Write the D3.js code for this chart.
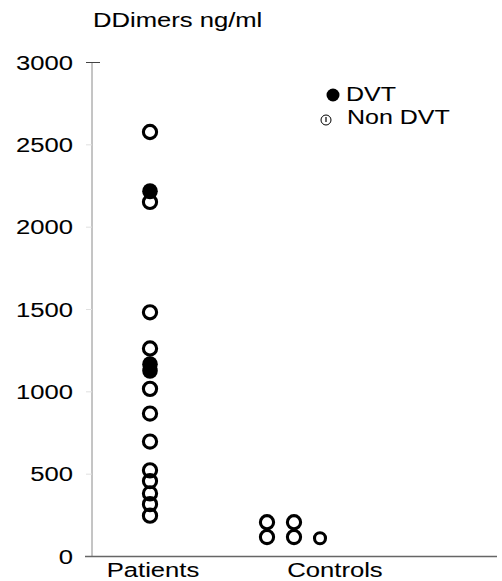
<!DOCTYPE html>
<html lang="en">
  <head>
    <meta charset="UTF-8" />
    <title>DDimers</title>
    <script src="https://cdn.jsdelivr.net/npm/d3@7"></script>
    <style>
      body { margin: 0; background: #fff; }
      text { font-family: "Liberation Sans", Arial, sans-serif; fill: #000; stroke: #000; stroke-width: 0.08; }
    </style>
  </head>
  <body>
    <div id="chart"></div>
    <script>
      // data
      const groups = ["Patients", "Controls"];
      const columns = ["P", "C1", "C2", "C3"];
      const yTicks = [0, 500, 1000, 1500, 2000, 2500, 3000];

      // patients, open circles = Non DVT, filled = DVT
      const patientNonDvt = [2575, 2150, 1480, 1260, 1015, 865, 695, 520, 455, 380, 315, 245];
      const patientDvt = [2215, 1165, 1125];

      // controls, three small columns
      const controlCol = ["C1", "C1", "C2", "C2", "C3"];
      const controlVal = [205, 115, 205, 115, 108];

      const W = 502, H = 581;
      const stretch = 1.25; // the text in the picture is wide

      const svg = d3.select("#chart")
                    .append("svg")
                    .attr("width", W)
                    .attr("height", H);

      const y = d3.scaleLinear().domain([0, 3000]).range([556, 62]);
      const x = d3.scaleOrdinal().domain(columns).range([150, 267, 294, 320]);
      const xLabel = d3.scalePoint().domain(groups).range([153, 335]);

      function wideText(g, tx, ty, str, anchor) {
        return g.append("text")
                .attr("transform", `translate(${tx},${ty}) scale(${stretch},1)`)
                .attr("text-anchor", anchor || "start")
                .attr("font-size", 20.5)
                .text(str);
      }

      // y axis
      const yAxis = svg.append("g")
                       .attr("transform", "translate(92,0)")
                       .call(d3.axisLeft(y).tickValues(yTicks).tickSize(6).tickFormat(""));
      yAxis.select(".domain").attr("stroke", "#8a8a8a").attr("d", `M0,${y(3000)}V${y(0)}`);
      yAxis.selectAll(".tick line")
           .attr("stroke", d => d === 3000 ? "#444" : "#e0e0e0")
           .attr("x1", d => d === 3000 ? 8 : 0);

      yTicks.forEach(v => wideText(svg, 73, y(v) + 7.5, String(v), "end"));

      // x axis line
      svg.append("line")
         .attr("x1", 85).attr("x2", 497)
         .attr("y1", y(0) + 0.5).attr("y2", y(0) + 0.5)
         .attr("stroke", "#666")
         .attr("stroke-width", 1.5);

      groups.forEach(gname => wideText(svg, xLabel(gname), 577, gname, "middle"));

      // title
      wideText(svg, 93, 27, "DDimers ng/ml");

      // points
      const pts = svg.append("g");
      pts.selectAll("circle.open")
         .data(patientNonDvt)
         .enter().append("circle")
         .attr("class", "open")
         .attr("cx", x("P"))
         .attr("cy", d => y(d))
         .attr("r", 6.6)
         .attr("fill", "none")
         .attr("stroke", "#000")
         .attr("stroke-width", 3.1);

      pts.selectAll("circle.ctrl")
         .data(controlVal)
         .enter().append("circle")
         .attr("class", "ctrl")
         .attr("cx", (d, i) => x(controlCol[i]))
         .attr("cy", d => y(d))
         .attr("r", (d, i) => controlCol[i] === "C3" ? 5.5 : 6.6)
         .attr("fill", "none")
         .attr("stroke", "#000")
         .attr("stroke-width", 3.1);

      pts.selectAll("ellipse.dvt")
         .data(patientDvt)
         .enter().append("ellipse")
         .attr("class", "dvt")
         .attr("cx", x("P"))
         .attr("cy", d => y(d))
         .attr("rx", 7.8)
         .attr("ry", 8)
         .attr("fill", "#000");

      // legend
      const leg = svg.append("g");
      leg.append("circle")
         .attr("cx", 333).attr("cy", 95).attr("r", 6.5)
         .attr("fill", "#000");
      wideText(leg, 346, 101, "DVT").attr("font-size", 20);

      leg.append("circle")
         .attr("cx", 326).attr("cy", 120).attr("r", 5)
         .attr("fill", "none")
         .attr("stroke", "#000")
         .attr("stroke-width", 1);
      leg.append("line")
         .attr("x1", 326).attr("x2", 326)
         .attr("y1", 117).attr("y2", 122)
         .attr("stroke", "#000")
         .attr("stroke-width", 1.2);
      wideText(leg, 347, 124, "Non DVT").attr("font-size", 20);
    </script>
  </body>
</html>
